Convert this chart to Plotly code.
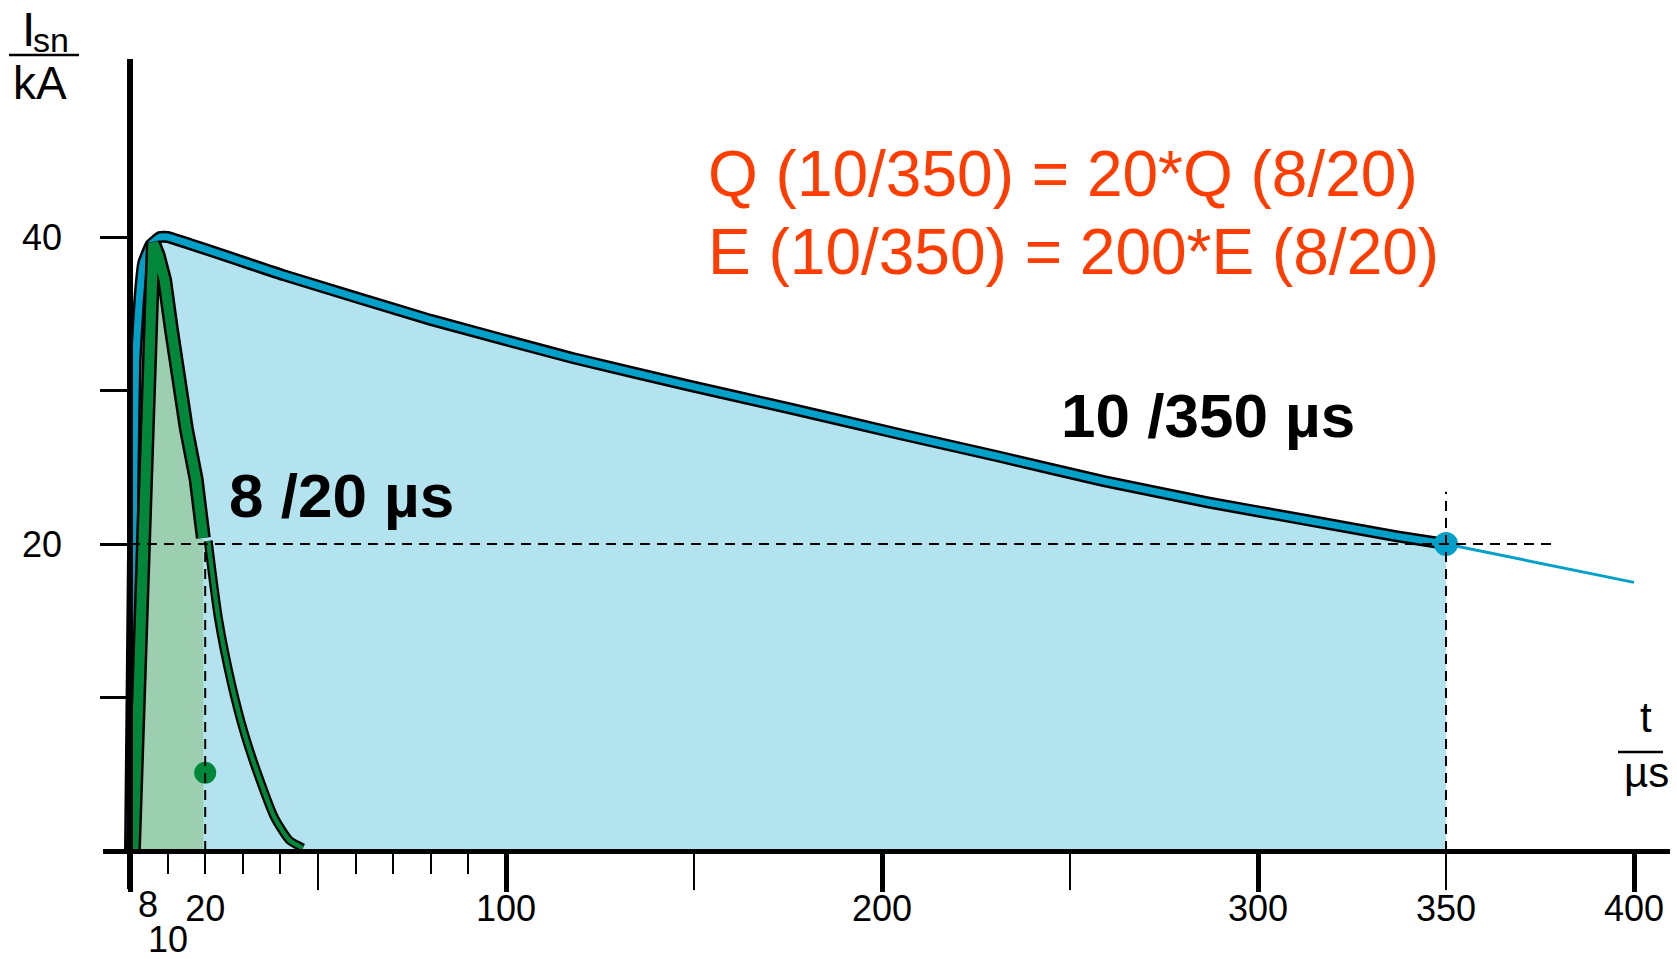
import plotly.graph_objects as go

# ---------------- data ----------------
# 10/350 us impulse current (kA) vs time (us)
t_350 = [0, 0.5, 1.0, 1.5, 2.5, 3.5, 5.5, 8, 10, 41, 80, 118, 149,
         176, 204, 231, 259, 287, 312, 337, 350]
i_350 = [0, 12, 24, 32, 36, 38.3, 39.5, 40.0, 40.0, 37.5, 34.6, 32.1, 30.3,
         28.8, 27.2, 25.7, 24.1, 22.7, 21.6, 20.5, 20.0]
# continuation of the 10/350 curve after the half-value point
t_350_ext = [350, 400]
i_350_ext = [20.0, 17.5]

# 8/20 us impulse current (kA) vs time (us)
t_820 = [0.9, 2.1, 3.2, 4.3, 5.4, 6.2, 7.5, 9.2, 11.0, 12.7, 15.0, 17.6, 19.5,
         20.8, 23.5, 27.0, 30.5, 34.3, 38.4, 42.4, 46.0]
i_820 = [0.0, 9.0, 18.0, 26.0, 36.6, 39.6, 38.8, 37.2, 34.0, 30.7, 27.5, 24.2, 20.4,
         20.2, 15.2, 10.9, 7.6, 4.8, 2.2, 0.7, 0.2]

# half-value guide points
half_current = 20          # kA
t_half_820 = 20            # us
t_half_350 = 350           # us
guide_h_end = 378          # us, end of horizontal dashed guide
guide_v350_top = 23.4      # kA, top of vertical dashed guide at 350 us
dot_820 = (20, 5.1)        # green marker

# axis ticks
x_major = [0, 100, 200, 300, 400]
x_long_minor = [50, 150, 250, 350]
x_short_minor = [10, 20, 30, 40, 60, 70, 80, 90]
x_label_vals = [20, 100, 200, 300, 350, 400]
x_label_text = ["20", "100", "200", "300", "350", "400"]
y_major = [20, 40]
y_minor = [10, 30]

# ---------------- layout geometry ----------------
FIG_W, FIG_H = 1677, 959
PLOT_L, PLOT_R, PLOT_T, PLOT_B = 103, 1670, 59, 889
X0_PX, X_SCALE = 130, 3.76      # px of t=0, px per us
Y0_PX, Y_SCALE = 851, 15.35     # px of I=0, px per kA

x_range = [(PLOT_L - X0_PX) / X_SCALE, (PLOT_R - X0_PX) / X_SCALE]
y_range = [-(PLOT_B - Y0_PX) / Y_SCALE, (Y0_PX - PLOT_T) / Y_SCALE]
x_axis_pos = (0 - y_range[0]) / (y_range[1] - y_range[0])
y_axis_pos = (0 - x_range[0]) / (x_range[1] - x_range[0])


def pxx(px):
    return (px - PLOT_L) / (PLOT_R - PLOT_L)


def pxy(py):
    return (PLOT_B - py) / (PLOT_B - PLOT_T)


FONT = "Liberation Sans, Arial, sans-serif"
BLUE = "#00A0C8"
LIGHT_BLUE = "#B3E3EE"
GREEN = "#00873A"
LIGHT_GREEN = "#9BCFB0"
RED = "#FF3D00"
DASH = "10px,7px"

split = next(k for k, t in enumerate(t_820) if t > t_half_820)
t_head, i_head = t_820[:split], i_820[:split]
t_tail, i_tail = t_820[split:], i_820[split:]

fig = go.Figure()

# fills
fig.add_trace(go.Scatter(x=t_350, y=i_350, mode="lines",
                         line=dict(width=0, shape="spline", smoothing=0.3),
                         fill="tozeroy", fillcolor=LIGHT_BLUE, hoverinfo="skip"))
fig.add_trace(go.Scatter(x=t_head, y=i_head, mode="lines", line=dict(width=0),
                         fill="tozeroy", fillcolor=LIGHT_GREEN, hoverinfo="skip"))

# 10/350 band (black outline + blue core) and continuation
fig.add_trace(go.Scatter(x=t_350, y=i_350, mode="lines",
                         line=dict(color="black", width=12, shape="spline", smoothing=0.3)))
fig.add_trace(go.Scatter(x=t_350, y=i_350, mode="lines",
                         line=dict(color=BLUE, width=7, shape="spline", smoothing=0.3)))
fig.add_trace(go.Scatter(x=t_350_ext, y=i_350_ext, mode="lines",
                         line=dict(color=BLUE, width=3)))

# 8/20 band: head (thick) and tail (thin)
fig.add_trace(go.Scatter(x=t_head, y=i_head, mode="lines",
                         line=dict(color="black", width=15)))
fig.add_trace(go.Scatter(x=t_head, y=i_head, mode="lines",
                         line=dict(color=GREEN, width=10)))
fig.add_trace(go.Scatter(x=t_tail, y=i_tail, mode="lines",
                         line=dict(color="black", width=9, shape="spline", smoothing=0.6)))
fig.add_trace(go.Scatter(x=t_tail, y=i_tail, mode="lines",
                         line=dict(color=GREEN, width=4.5, shape="spline", smoothing=0.6)))

# markers
fig.add_trace(go.Scatter(x=[t_half_350], y=[half_current], mode="markers",
                         marker=dict(color=BLUE, size=24)))
fig.add_trace(go.Scatter(x=[dot_820[0]], y=[dot_820[1]], mode="markers",
                         marker=dict(color=GREEN, size=22)))

# dashed guides
fig.add_trace(go.Scatter(x=[0, guide_h_end], y=[half_current, half_current], mode="lines",
                         line=dict(color="black", width=2, dash=DASH)))
fig.add_trace(go.Scatter(x=[t_half_820, t_half_820], y=[0, half_current], mode="lines",
                         line=dict(color="black", width=2, dash=DASH)))
fig.add_trace(go.Scatter(x=[t_half_350, t_half_350], y=[0, guide_v350_top], mode="lines",
                         line=dict(color="black", width=2, dash=DASH)))

# empty traces so the overlay tick axes get drawn
fig.add_trace(go.Scatter(x=[], y=[], xaxis="x2", hoverinfo="skip"))
fig.add_trace(go.Scatter(x=[], y=[], xaxis="x3", hoverinfo="skip"))

common_x = dict(range=x_range, anchor="free", position=x_axis_pos, showgrid=False,
                zeroline=False, fixedrange=True)

fig.update_layout(
    width=FIG_W, height=FIG_H,
    margin=dict(l=PLOT_L, r=FIG_W - PLOT_R, t=PLOT_T, b=FIG_H - PLOT_B, pad=0),
    plot_bgcolor="white", paper_bgcolor="white",
    showlegend=False,
    font=dict(family=FONT, color="black"),
    xaxis=dict(**common_x, showline=True, linewidth=5, linecolor="black",
               tickmode="array", tickvals=x_major, ticks="outside", ticklen=38,
               tickwidth=5, tickcolor="black", showticklabels=False,
               minor=dict(tickmode="array", tickvals=x_short_minor, ticks="outside",
                          ticklen=20, tickwidth=2, tickcolor="black", showgrid=False)),
    xaxis2=dict(**common_x, overlaying="x", showline=False,
                tickmode="array", tickvals=x_long_minor, ticks="outside", ticklen=38,
                tickwidth=2, tickcolor="black", showticklabels=False),
    xaxis3=dict(**common_x, overlaying="x", showline=False,
                tickmode="array", tickvals=x_label_vals, ticktext=x_label_text,
                ticks="", tickfont=dict(size=36, family=FONT, color="black"),
                ticklabelstandoff=33),
    yaxis=dict(range=y_range, anchor="free", position=y_axis_pos, showgrid=False,
               zeroline=False, fixedrange=True, showline=True, linewidth=5.5,
               linecolor="black", tickmode="array", tickvals=y_major, ticks="outside",
               ticklen=27, tickwidth=2.5, tickcolor="black",
               tickfont=dict(size=36, family=FONT, color="black"),
               ticklabelstandoff=31,
               minor=dict(tickmode="array", tickvals=y_minor, ticks="outside",
                          ticklen=27, tickwidth=2.5, tickcolor="black", showgrid=False)),
)

ann = []
# formulas
ann.append(dict(text="Q (10/350) = 20*Q (8/20)", x=pxx(706), y=pxy(174),
                xanchor="left", yanchor="middle", font=dict(size=64, color=RED, family=FONT)))
ann.append(dict(text="E (10/350) = 200*E (8/20)", x=pxx(706), y=pxy(252),
                xanchor="left", yanchor="middle", font=dict(size=64, color=RED, family=FONT)))
# waveform labels
ann.append(dict(text="<b>10 /350 µs</b>", x=pxx(1059), y=pxy(415),
                xanchor="left", yanchor="middle", font=dict(size=62, color="black", family=FONT)))
ann.append(dict(text="<b>8 /20 µs</b>", x=pxx(227), y=pxy(495),
                xanchor="left", yanchor="middle", font=dict(size=62, color="black", family=FONT)))
# axis unit labels (I with subscript sn, over kA)
ann.append(dict(text="I", x=pxx(28.5), y=pxy(30),
                xanchor="center", yanchor="middle", font=dict(size=48, color="black", family=FONT)))
ann.append(dict(text="sn", x=pxx(51), y=pxy(40),
                xanchor="center", yanchor="middle", font=dict(size=34, color="black", family=FONT)))
ann.append(dict(text="kA", x=pxx(40), y=pxy(83),
                xanchor="center", yanchor="middle", font=dict(size=46, color="black", family=FONT)))
ann.append(dict(text="t", x=pxx(1646), y=pxy(717),
                xanchor="center", yanchor="middle", font=dict(size=42, color="black", family=FONT)))
ann.append(dict(text="µs", x=pxx(1646), y=pxy(772),
                xanchor="center", yanchor="middle", font=dict(size=42, color="black", family=FONT)))
# extra x tick labels 8 and 10
ann.append(dict(text="8", x=pxx(148), y=pxy(905),
                xanchor="center", yanchor="middle", font=dict(size=36, color="black", family=FONT)))
ann.append(dict(text="10", x=pxx(168), y=pxy(939),
                xanchor="center", yanchor="middle", font=dict(size=36, color="black", family=FONT)))
for a in ann:
    a.update(xref="paper", yref="paper", showarrow=False)
fig.update_layout(annotations=ann)

# fraction bars of the unit labels
fig.update_layout(shapes=[
    dict(type="line", xref="paper", yref="paper", x0=pxx(9), x1=pxx(79),
         y0=pxy(55), y1=pxy(55), line=dict(color="black", width=2.5)),
    dict(type="line", xref="paper", yref="paper", x0=pxx(1618), x1=pxx(1663),
         y0=pxy(752), y1=pxy(752), line=dict(color="black", width=2.5)),
])

fig.write_html("out.html", config={"displayModeBar": False},
               post_script="document.body.style.margin='0';document.body.style.overflow='hidden';")
